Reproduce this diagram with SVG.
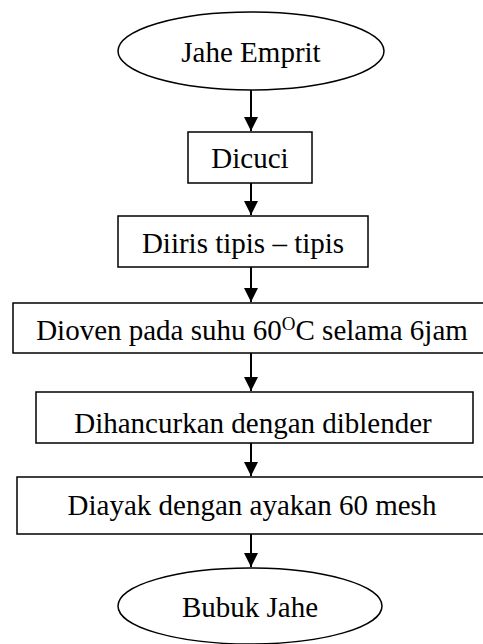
<svg xmlns="http://www.w3.org/2000/svg" width="483" height="644" viewBox="0 0 483 644">
<style>
.s{fill:#fff;stroke:#000;stroke-width:1.5}
.t{font-family:"Liberation Serif","Times New Roman",serif;font-size:29px;fill:#000;text-anchor:middle}
.c{stroke:#000;stroke-width:2;fill:none}
</style>
<defs>
<marker id="a" markerUnits="userSpaceOnUse" markerWidth="16" markerHeight="14" refX="14" refY="7" orient="auto">
<path d="M0,0 L14,7 L0,14 Z" fill="#000"/>
</marker>
</defs>
<rect width="483" height="644" fill="#fff"/>
<g id="connectors">
<line class="c" x1="251" y1="90" x2="251" y2="131" marker-end="url(#a)"/>
<line class="c" x1="251" y1="183" x2="251" y2="215" marker-end="url(#a)"/>
<line class="c" x1="251" y1="267" x2="251" y2="302" marker-end="url(#a)"/>
<line class="c" x1="251" y1="353" x2="251" y2="391" marker-end="url(#a)"/>
<line class="c" x1="251" y1="443" x2="251" y2="476" marker-end="url(#a)"/>
<line class="c" x1="251" y1="534" x2="251" y2="567" marker-end="url(#a)"/>
</g>
<g id="jahe-emprit">
<ellipse class="s" cx="251" cy="51" rx="133" ry="39"/>
<text class="t" x="251" y="62">Jahe Emprit</text>
</g>
<g id="dicuci">
<rect class="s" x="188" y="132" width="124" height="51"/>
<text class="t" x="250" y="168">Dicuci</text>
</g>
<g id="diiris">
<rect class="s" x="118" y="216" width="250" height="51"/>
<text class="t" x="243" y="253">Diiris tipis – tipis</text>
</g>
<g id="dioven">
<rect class="s" x="13" y="303" width="480" height="50"/>
<text class="t" x="252" y="340">Dioven pada suhu 60<tspan font-size="19" dy="-10">O</tspan><tspan dy="10">C selama 6jam</tspan></text>
</g>
<g id="dihancurkan">
<rect class="s" x="36" y="392" width="437" height="51"/>
<text class="t" x="253" y="433">Dihancurkan dengan diblender</text>
</g>
<g id="diayak">
<rect class="s" x="17" y="477" width="476" height="57"/>
<text class="t" x="252" y="515">Diayak dengan ayakan 60 mesh</text>
</g>
<g id="bubuk-jahe">
<ellipse class="s" cx="250" cy="606" rx="132" ry="38"/>
<text class="t" x="250" y="617">Bubuk Jahe</text>
</g>
</svg>
